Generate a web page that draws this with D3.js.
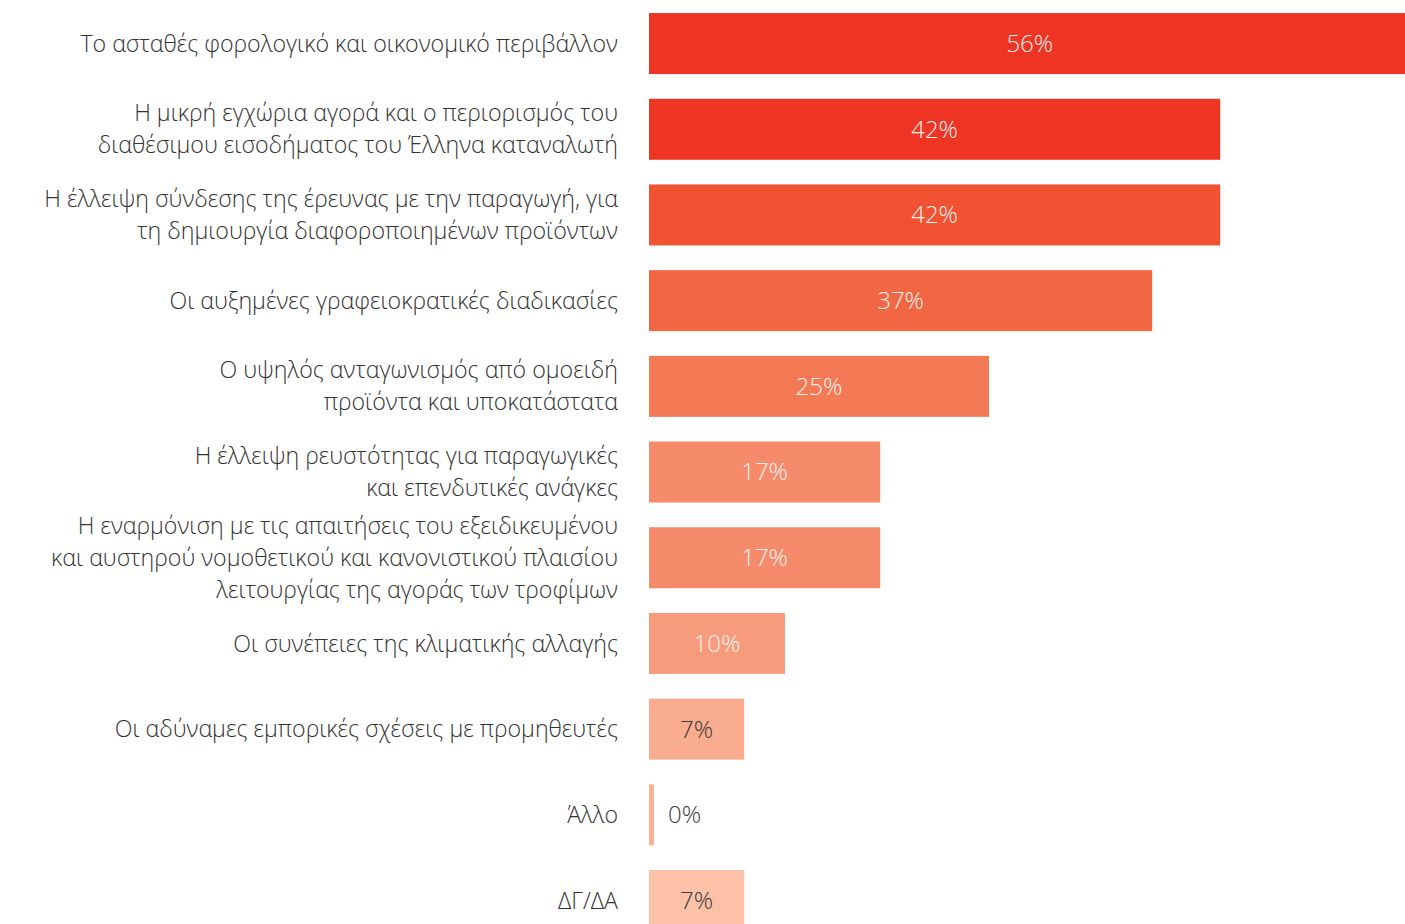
<!DOCTYPE html>
<html>
<head>
<meta charset="utf-8">
<script src="https://cdn.jsdelivr.net/npm/d3@7"></script>
<style>
  html, body { margin: 0; padding: 0; background: #ffffff; }
  svg { display: block; }
</style>
</head>
<body>
<svg id="chart" width="1405" height="924"></svg>
<script>
// ---- data ----
const categories = [
  ["Το ασταθές φορολογικό και οικονομικό περιβάλλον"],
  ["Η μικρή εγχώρια αγορά και ο περιορισμός του", "διαθέσιμου εισοδήματος του Έλληνα καταναλωτή"],
  ["Η έλλειψη σύνδεσης της έρευνας με την παραγωγή, για", "τη δημιουργία διαφοροποιημένων προϊόντων"],
  ["Οι αυξημένες γραφειοκρατικές διαδικασίες"],
  ["Ο υψηλός ανταγωνισμός από ομοειδή", "προϊόντα και υποκατάστατα"],
  ["Η έλλειψη ρευστότητας για παραγωγικές", "και επενδυτικές ανάγκες"],
  ["Η εναρμόνιση με τις απαιτήσεις του εξειδικευμένου", "και αυστηρού νομοθετικού και κανονιστικού πλαισίου", "λειτουργίας της αγοράς των τροφίμων"],
  ["Οι συνέπειες της κλιματικής αλλαγής"],
  ["Οι αδύναμες εμπορικές σχέσεις με προμηθευτές"],
  ["Άλλο"],
  ["ΔΓ/ΔΑ"]
];
const values = [56, 42, 42, 37, 25, 17, 17, 10, 7, 0, 7];
const barColors = ["#EE3524", "#EE3524", "#F05232", "#F26743", "#F47A56", "#F58B6B", "#F58B6B", "#F69C7D", "#F9AC8F", "#F9B194", "#FCC1A7"];
const valueLabelColors = ["#fdf1ee", "#fdf1ee", "#fdf1ee", "#fdf1ee", "#fdf1ee", "#fdf1ee", "#fdf1ee", "#fdf1ee", "#3b3b3b", "#3b3b3b", "#3b3b3b"];

// ---- chart ----
const svg = d3.select("#chart");
const ids = categories.map((c, i) => i);

const x = d3.scaleLinear().domain([0, 56]).range([649, 1410.6]);
const y = d3.scaleBand().domain(ids).range([0.7, 943.4]).paddingInner(0.288).paddingOuter(0.144);

const font = "'Open Sans', 'Noto Sans', sans-serif";

// bars
svg.append("g").selectAll("rect").data(ids).join("rect")
  .attr("x", x(0))
  .attr("y", i => y(i))
  .attr("width", i => Math.max(x(values[i]) - x(0), 5))
  .attr("height", y.bandwidth())
  .attr("fill", i => barColors[i]);

// value labels
svg.append("g").selectAll("text").data(ids).join("text")
  .attr("x", i => values[i] > 3 ? (x(0) + x(values[i])) / 2 : x(0) + 19)
  .attr("y", i => y(i) + y.bandwidth() / 2)
  .attr("dy", "0.35em")
  .attr("text-anchor", i => values[i] > 3 ? "middle" : "start")
  .attr("font-family", font)
  .attr("font-weight", 300)
  .attr("font-size", 24)
  .attr("fill", i => valueLabelColors[i])
  .text(i => values[i] + "%");

// category labels
const lineH = 32;
const lbl = svg.append("g").selectAll("text").data(ids).join("text")
  .attr("text-anchor", "end")
  .attr("font-family", font)
  .attr("font-weight", 300)
  .attr("font-size", 23.2)
  .attr("fill", "#333333")
  .attr("y", i => y(i) + y.bandwidth() / 2 - (categories[i].length - 1) * lineH / 2);

lbl.each(function(i) {
  const t = d3.select(this);
  categories[i].forEach((line, k) => {
    t.append("tspan")
      .attr("x", 618)
      .attr("dy", k === 0 ? "0.35em" : lineH)
      .text(line);
  });
});
</script>
</body>
</html>
